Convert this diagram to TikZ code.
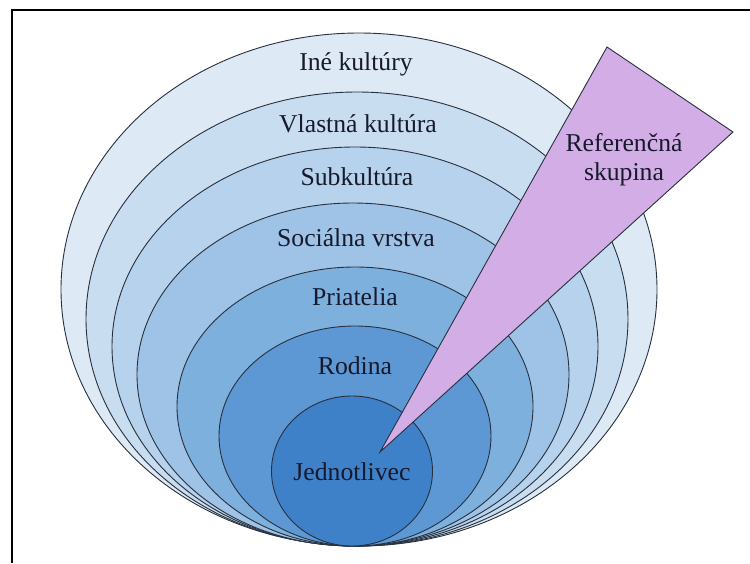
\documentclass[tikz,border=0pt]{standalone}
\usepackage{fontspec}
\setmainfont{Liberation Serif}
\definecolor{ringA}{RGB}{222,233,246}
\definecolor{ringB}{RGB}{201,221,241}
\definecolor{ringC}{RGB}{183,210,236}
\definecolor{ringD}{RGB}{158,195,231}
\definecolor{ringE}{RGB}{126,176,222}
\definecolor{ringF}{RGB}{93,152,213}
\definecolor{ringG}{RGB}{63,129,200}
\definecolor{refcol}{RGB}{211,173,230}
\definecolor{edgecol}{RGB}{40,48,62}
\definecolor{textcol}{RGB}{22,26,44}

\begin{document}
\begin{tikzpicture}[x=1pt, y=-1pt,
  ring/.style={draw=edgecol, line width=0.9pt},
  lbl/.style={font=\fontsize{25.7}{29}\selectfont, text=textcol, inner sep=0pt, align=center},
]
\useasboundingbox (0,0) rectangle (750,563);
% frame (only top and left edges show)
\draw[line width=2pt] (12,563) -- (12,10) -- (750,10);
% nested rings, outer to inner
\draw[ring, fill=ringA] (359,289.5) ellipse [x radius=298, y radius=256.5];
\draw[ring, fill=ringB] (357,319)   ellipse [x radius=271, y radius=227];
\draw[ring, fill=ringC] (355,346.5) ellipse [x radius=243, y radius=199.5];
\draw[ring, fill=ringD] (353,374.5) ellipse [x radius=216, y radius=171.5];
\draw[ring, fill=ringE] (355,406.5) ellipse [x radius=178, y radius=139.5];
\draw[ring, fill=ringF] (355,436)   ellipse [x radius=136, y radius=110];
\draw[ring, fill=ringG] (352,471)   ellipse [x radius=80.5, y radius=75];
% reference group wedge
\draw[ring, fill=refcol, line join=miter] (380,452) -- (607,47) -- (733,132) -- cycle;

\node[lbl] (ine)    at (356,64)  {Iné kultúry};
\node[lbl] (vlast)  at (358,124) {Vlastná kultúra};
\node[lbl] (subk)   at (357,177) {Subkultúra};
\node[lbl] (soc)    at (356,238) {Sociálna vrstva};
\node[lbl] (priat)  at (355,297) {Priatelia};
\node[lbl] (rodina) at (355,366) {Rodina};
\node[lbl] (jedn)   at (352,472) {Jednotlivec};
\node[lbl] (ref)    at (624,160) {Referenčná\\skupina};
\end{tikzpicture}
\end{document}
